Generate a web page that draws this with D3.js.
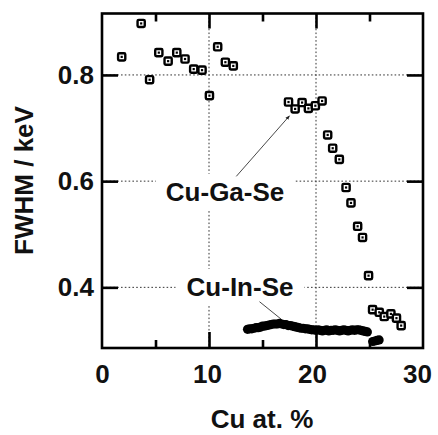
<!DOCTYPE html>
<html>
<head>
<meta charset="utf-8">
<script src="https://cdn.jsdelivr.net/npm/d3@7"></script>
<style>
  html, body { margin: 0; padding: 0; background: #fff; }
  svg { display: block; }
  text { font-family: "Liberation Sans", Arial, sans-serif; font-weight: bold; fill: #111; }
</style>
</head>
<body>
<svg id="chart" width="438" height="435"></svg>
<script>
// Cu-Ga-Se: peak width vs Cu content (open squares)
const gaSeCu = [1.84, 3.66, 4.45, 5.31, 6.18, 6.99, 7.76, 8.57, 9.35, 10.04, 10.81, 11.53, 12.27,
  17.43, 18.05, 18.70, 19.29, 19.94, 20.57,
  21.09, 21.56, 22.18, 22.81, 23.27, 23.89, 24.35, 24.91,
  25.29, 25.91, 26.38, 27.00, 27.52, 27.96];
const gaSeFwhm = [0.834, 0.897, 0.791, 0.842, 0.826, 0.842, 0.830, 0.811, 0.809, 0.761, 0.853, 0.824, 0.817,
  0.749, 0.736, 0.748, 0.737, 0.742, 0.751,
  0.687, 0.662, 0.641, 0.588, 0.559, 0.515, 0.494, 0.422,
  0.358, 0.353, 0.345, 0.350, 0.342, 0.328];

// Cu-In-Se: densely sampled series (filled circles)
const inSeCu = [13.6, 13.8, 14.0, 14.2, 14.4, 14.6, 14.8, 15.0, 15.2, 15.4, 15.6, 15.8, 16.0, 16.2, 16.4,
  16.6, 16.8, 17.0, 17.2, 17.4, 17.6, 17.8, 18.0, 18.2, 18.4, 18.6, 18.8, 19.0, 19.2, 19.4,
  19.6, 19.8, 20.0, 20.2, 20.4, 20.6, 20.8, 21.0, 21.2, 21.4, 21.6, 21.8, 22.0, 22.2, 22.4,
  22.6, 22.8, 23.0, 23.2, 23.4, 23.6, 23.8, 24.0, 24.2, 24.4, 24.6, 24.8,
  25.3, 25.5, 25.7, 25.9];
const inSeFwhm = [0.321, 0.322, 0.322, 0.323, 0.324, 0.324, 0.325, 0.327, 0.327, 0.328, 0.329, 0.330, 0.331, 0.331, 0.331,
  0.332, 0.331, 0.330, 0.330, 0.328, 0.328, 0.327, 0.326, 0.325, 0.324, 0.323, 0.323, 0.322, 0.322, 0.321,
  0.320, 0.320, 0.319, 0.320, 0.319, 0.318, 0.319, 0.320, 0.318, 0.319, 0.319, 0.320, 0.319, 0.318, 0.319,
  0.320, 0.319, 0.318, 0.319, 0.320, 0.319, 0.320, 0.320, 0.319, 0.318, 0.317, 0.316,
  0.298, 0.299, 0.300, 0.301];

// Axis ticks
const xMajor = [10, 20];
const xMinor = [5, 15, 25];
const xTickLabels = [0, 10, 20, 30];
const yMajor = [0.4, 0.6, 0.8];

// Series labels with leader lines: [text x, text baseline y, leader from, leader to] in data units
const labelNames = ["Cu-Ga-Se", "Cu-In-Se"];
const labelPos = [[11.5, 0.563], [12.9, 0.384]];
const leaderFrom = [[12.55, 0.609], [14.72, 0.373]];
const leaderTo = [[17.52, 0.723], [16.75, 0.340]];

const svg = d3.select("#chart");
const pLeft = 102, pRight = 423, pTop = 13.5, pBottom = 348;

const x = d3.scaleLinear().domain([0, 30]).range([pLeft, pRight]);
const y = d3.scaleLinear().domain([0.2858, 0.9157]).range([pBottom, pTop]);

// dotted grid
const grid = svg.append("g").attr("stroke", "#333").attr("stroke-width", 1).attr("stroke-dasharray", "1.6,2.2");
grid.selectAll(".gx").data(xMajor).join("line")
  .attr("x1", d => x(d)).attr("x2", d => x(d)).attr("y1", pTop).attr("y2", pBottom);
grid.selectAll(".gy").data(yMajor).join("line")
  .attr("x1", pLeft).attr("x2", pRight).attr("y1", d => y(d)).attr("y2", d => y(d));

// label text (measured first so a white box can mask the grid behind it)
const labelG = svg.append("g");
const pads = [[10, 3], [11, 3]];
labelNames.forEach((name, i) => {
  const t = labelG.append("text")
    .attr("x", x(labelPos[i][0]))
    .attr("y", y(labelPos[i][1]))
    .attr("text-anchor", "middle")
    .attr("font-size", 26)
    .text(name);
  const bb = t.node().getBBox();
  labelG.insert("rect", "text")
    .attr("x", bb.x - pads[i][0]).attr("y", bb.y - pads[i][1])
    .attr("width", bb.width + 2 * pads[i][0]).attr("height", bb.height + 2 * pads[i][1])
    .attr("fill", "#fff");
});

// leader lines
const defs = svg.append("defs");
defs.append("marker").attr("id", "arrow").attr("viewBox", "0 0 10 10")
  .attr("refX", 9).attr("refY", 5).attr("markerWidth", 5).attr("markerHeight", 5)
  .attr("orient", "auto")
  .append("path").attr("d", "M0,1 L10,5 L0,9 Z").attr("fill", "#222");
svg.append("g").selectAll("line").data(labelNames).join("line")
  .attr("x1", (d, i) => x(leaderFrom[i][0])).attr("y1", (d, i) => y(leaderFrom[i][1]))
  .attr("x2", (d, i) => x(leaderTo[i][0])).attr("y2", (d, i) => y(leaderTo[i][1]))
  .attr("stroke", "#333").attr("stroke-width", 0.9)
  .attr("marker-end", (d, i) => i === 0 ? "url(#arrow)" : null);

// Cu-In-Se filled circles
svg.append("g").selectAll("circle").data(inSeCu).join("circle")
  .attr("cx", d => x(d)).attr("cy", (d, i) => y(inSeFwhm[i]))
  .attr("r", 4.6).attr("fill", "#000");

// Cu-Ga-Se open squares with centre dot
const sq = svg.append("g").selectAll("g").data(gaSeCu).join("g")
  .attr("transform", (d, i) => `translate(${x(d)},${y(gaSeFwhm[i])})`);
sq.append("rect").attr("x", -3.6).attr("y", -3.6).attr("width", 7.2).attr("height", 7.2)
  .attr("rx", 1.2).attr("fill", "#fff").attr("stroke", "#000").attr("stroke-width", 2.4);
sq.append("rect").attr("x", -1.1).attr("y", -1.1).attr("width", 2.2).attr("height", 2.2).attr("fill", "#000");

// axes: inward ticks on all four sides
const styleAxis = g => {
  g.select(".domain").remove();
  g.selectAll(".tick line").attr("stroke", "#000").attr("stroke-width", 2.6);
  g.selectAll("text").attr("font-size", 26).attr("font-family", null).attr("fill", "#111");
};
svg.append("g").attr("transform", `translate(0,${pBottom})`)
  .call(d3.axisBottom(x).tickValues(xMajor).tickSize(-16).tickFormat(""))
  .call(styleAxis);
svg.append("g").attr("transform", `translate(0,${pBottom})`)
  .call(d3.axisBottom(x).tickValues(xMinor).tickSize(-8).tickFormat(""))
  .call(styleAxis);
svg.append("g").attr("transform", `translate(0,${pBottom})`)
  .call(d3.axisBottom(x).tickValues(xTickLabels).tickSize(0).tickPadding(17).tickFormat(d3.format("d")))
  .call(styleAxis)
  .call(g => g.selectAll("text").attr("dx", d => -d * 0.2));
svg.append("g").attr("transform", `translate(0,${pTop})`)
  .call(d3.axisTop(x).tickValues(xMajor).tickSize(-15).tickFormat(""))
  .call(styleAxis);
svg.append("g").attr("transform", `translate(0,${pTop})`)
  .call(d3.axisTop(x).tickValues(xMinor).tickSize(-8).tickFormat(""))
  .call(styleAxis);
svg.append("g").attr("transform", `translate(${pLeft},0)`)
  .call(d3.axisLeft(y).tickValues(yMajor).tickSize(-16).tickPadding(8).tickFormat(d3.format(".1f")))
  .call(styleAxis);
svg.append("g").attr("transform", `translate(${pRight},0)`)
  .call(d3.axisRight(y).tickValues(yMajor).tickSize(-16).tickFormat(""))
  .call(styleAxis);

// frame
svg.append("rect").attr("x", pLeft).attr("y", pTop)
  .attr("width", pRight - pLeft).attr("height", pBottom - pTop)
  .attr("fill", "none").attr("stroke", "#000").attr("stroke-width", 2.6);

// axis titles
svg.append("text").attr("x", 262).attr("y", 428).attr("text-anchor", "middle")
  .attr("font-size", 26).text("Cu at. %");
svg.append("text").attr("transform", "translate(33,180.5) rotate(-90)")
  .attr("text-anchor", "middle").attr("font-size", 26).text("FWHM / keV");
</script>
</body>
</html>
